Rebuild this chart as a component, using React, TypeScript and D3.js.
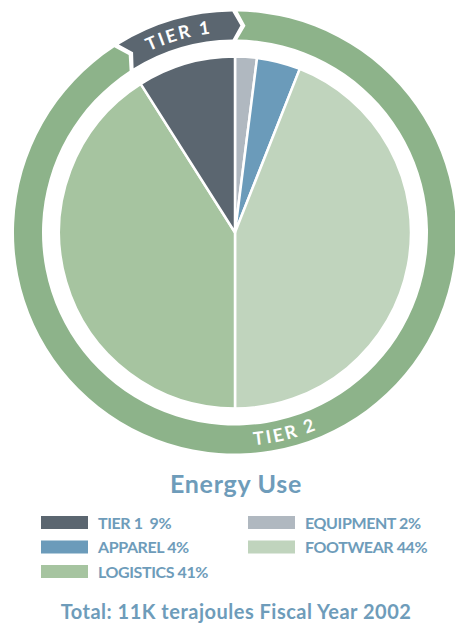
import React from "react";
import * as d3 from "d3";

const sliceNames = ["EQUIPMENT", "APPAREL", "FOOTWEAR", "LOGISTICS", "TIER 1"];
const sliceValues = [2, 4, 44, 41, 9];
const sliceColors = ["#b0b8c0", "#6b9bba", "#c0d4bd", "#a6c4a0", "#5b6670"];

const tierNames = ["TIER 2", "TIER 1"];
const tierValues = [91, 9];
const tierColors = ["#8db38a", "#5b6670"];

const legendOrder = ["TIER 1", "EQUIPMENT", "APPAREL", "FOOTWEAR", "LOGISTICS"];
const legendLabels = ["TIER 1  9%", "EQUIPMENT 2%", "APPAREL 4%", "FOOTWEAR 44%", "LOGISTICS 41%"];

const title = "Energy Use";
const footer = "Total: 11K terajoules Fiscal Year 2002";

const W = 455, H = 627;
const cx = 235, cy = 232.5;
const pieR = 176;
const ringIn = 193, ringOut = 221;
const textBlue = "#6e9cba";

function pt(r: number, a: number): [number, number] {
  return [r * Math.sin(a), -r * Math.cos(a)];
}

function arrowSeg(a0: number, a1: number, r0: number, r1: number, delta: number, gap: number) {
  const s = a0 + gap / 2, e = a1 - gap / 2;
  const rm = (r0 + r1) / 2;
  const large = e - s > Math.PI ? 1 : 0;
  const o0 = pt(r1, s), o1 = pt(r1, e), tip = pt(rm, e + delta), i1 = pt(r0, e), i0 = pt(r0, s), notch = pt(rm, s + delta);
  return `M${o0[0]},${o0[1]} A${r1},${r1} 0 ${large} 1 ${o1[0]},${o1[1]} L${tip[0]},${tip[1]} L${i1[0]},${i1[1]} A${r0},${r0} 0 ${large} 0 ${i0[0]},${i0[1]} L${notch[0]},${notch[1]} Z`;
}

function arcPath(r: number, a0: number, a1: number, sweep: number) {
  const p0 = pt(r, a0), p1 = pt(r, a1);
  return `M${p0[0]},${p0[1]} A${r},${r} 0 0 ${sweep} ${p1[0]},${p1[1]}`;
}

export default function App() {
  const pie = d3.pie<number>().sort(null).value((d) => d);
  const slices = pie(sliceValues);
  const arc = d3.arc<d3.PieArcDatum<number>>().innerRadius(0).outerRadius(pieR);

  const ring = pie(tierValues);
  const delta = (2.2 * Math.PI) / 180;
  const gap = (1.4 * Math.PI) / 180;

  const t1 = ring[1];
  const t1mid = (t1.startAngle + t1.endAngle) / 2 - 2 * Math.PI + 0.005;
  const t2mid = (166 * Math.PI) / 180;
  const span = 0.45;

  const colorOf = (name: string) => sliceColors[sliceNames.indexOf(name)];

  return (
    <div style={{ position: "absolute", left: 0, top: 0 }}>
      <svg width={W} height={H} style={{ display: "block", background: "#fff" }}>
        <defs>
          <path id="t1path" d={arcPath(200.5, t1mid - span, t1mid + span, 1)} transform={`translate(${cx},${cy})`} />
          <path id="t2path" d={arcPath(213.5, t2mid + span, t2mid - span, 0)} transform={`translate(${cx},${cy})`} />
        </defs>
        <g transform={`translate(${cx},${cy})`}>
          {ring.map((r, i) => (
            <path key={tierNames[i]} d={arrowSeg(r.startAngle, r.endAngle, ringIn, ringOut, delta, gap)} fill={tierColors[i]} />
          ))}
          {slices.map((s, i) => (
            <path key={sliceNames[i]} d={arc(s) || ""} fill={sliceColors[i]} stroke="#fff" strokeWidth={2.5} strokeLinejoin="round" />
          ))}
        </g>
        <text fontFamily="Lato, sans-serif" fontWeight={700} fontSize={18} fill="#fff" letterSpacing={2.2}>
          <textPath href="#t1path" startOffset="50%" textAnchor="middle">{tierNames[1]}</textPath>
        </text>
        <text fontFamily="Lato, sans-serif" fontWeight={700} fontSize={18} fill="#fff" letterSpacing={2.2}>
          <textPath href="#t2path" startOffset="50%" textAnchor="middle">{tierNames[0]}</textPath>
        </text>
        <text x={236} y={493} textAnchor="middle" fontFamily="Lato, sans-serif" fontWeight={700} fontSize={25} fill={textBlue} letterSpacing={0.7}>
          {title}
        </text>
        {legendOrder.map((name, i) => {
          const col = i % 2, row = Math.floor(i / 2);
          const x = col === 0 ? 41 : 248;
          const y = 516 + row * 24.5;
          return (
            <g key={name}>
              <rect x={x} y={y} width={47} height={13} fill={colorOf(name)} />
              <text x={x + 57} y={y + 12.5} fontFamily="Lato, sans-serif" fontWeight={700} fontSize={16} fill={textBlue} style={{ whiteSpace: "pre" }} letterSpacing={-0.4}>
                {legendLabels[i]}
              </text>
            </g>
          );
        })}
        <text x={236} y={619} textAnchor="middle" fontFamily="Lato, sans-serif" fontWeight={700} fontSize={20} fill={textBlue} letterSpacing={0.5}>
          {footer}
        </text>
      </svg>
    </div>
  );
}
